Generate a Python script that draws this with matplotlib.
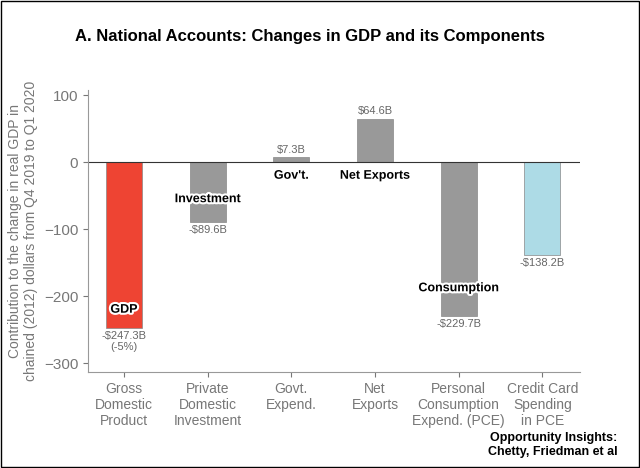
import matplotlib
matplotlib.use("Agg")
import matplotlib.pyplot as plt
import matplotlib.patheffects as pe

plt.rcParams["font.family"] = ["Liberation Sans", "DejaVu Sans"]

categories = ["Gross\nDomestic\nProduct", "Private\nDomestic\nInvestment", "Govt.\nExpend.",
              "Net\nExports", "Personal\nConsumption\nExpend. (PCE)", "Credit Card\nSpending\nin PCE"]
values = [-247.3, -89.6, 7.3, 64.6, -229.7, -138.2]
value_labels = ["-$247.3B\n(-5%)", "-$89.6B", "$7.3B", "$64.6B", "-$229.7B", "-$138.2B"]
colors = ["#EE4433", "#999999", "#999999", "#999999", "#999999", "#ADDBE6"]
inner_labels = {0: ("GDP", -220), 1: ("Investment", -55), 2: ("Gov't.", -20),
                3: ("Net Exports", -20), 4: ("Consumption", -188)}

fig = plt.figure(figsize=(6.4, 4.68), dpi=100)
ax = fig.add_axes([88 / 640, 96 / 468, 492 / 640, 282 / 468])
x = list(range(len(values)))
ax.bar(x, values, width=0.43, color=colors, edgecolor="#888888", linewidth=0.5)
ax.axhline(0, color="#333333", linewidth=0.8)

for i, v in enumerate(values):
    if v >= 0:
        ax.text(i, v + 4, value_labels[i], ha="center", va="bottom", fontsize=8, color="#666666")
    else:
        ax.text(i, v - 4, value_labels[i], ha="center", va="top", fontsize=8, color="#666666")

for i, (txt, y) in inner_labels.items():
    ax.text(i, y, txt, ha="center", va="center", fontsize=9, fontweight="bold",
            path_effects=[pe.withStroke(linewidth=3, foreground="white")])

ax.set_xlim(-0.43, 5.45)
ax.set_ylim(-313, 108)
ax.set_yticks([100, 0, -100, -200, -300])
ax.set_xticks(x)
ax.set_xticklabels(categories, fontsize=10, color="#777777")
ax.tick_params(axis="y", labelsize=11, colors="#777777")
ax.tick_params(axis="x", colors="#777777")
for s in ["top", "right"]:
    ax.spines[s].set_visible(False)
for s in ["left", "bottom"]:
    ax.spines[s].set_color("#999999")
ax.set_ylabel("Contribution to the change in real GDP in\nchained (2012) dollars from Q4 2019 to Q1 2020",
              fontsize=10, color="#777777")

fig.text(75 / 640, 1 - 36 / 468, "A. National Accounts: Changes in GDP and its Components",
         fontsize=12, fontweight="bold", va="center")
fig.text(0.965, 1 - 445 / 468, "Opportunity Insights:\nChetty, Friedman et al",
         fontsize=9, fontweight="bold", ha="right", va="center")
fig.patches.append(plt.Rectangle((0.002, 0.002), 0.996, 0.996, transform=fig.transFigure,
                                 fill=False, edgecolor="black", linewidth=1))
fig.savefig("out.png", dpi=100)
